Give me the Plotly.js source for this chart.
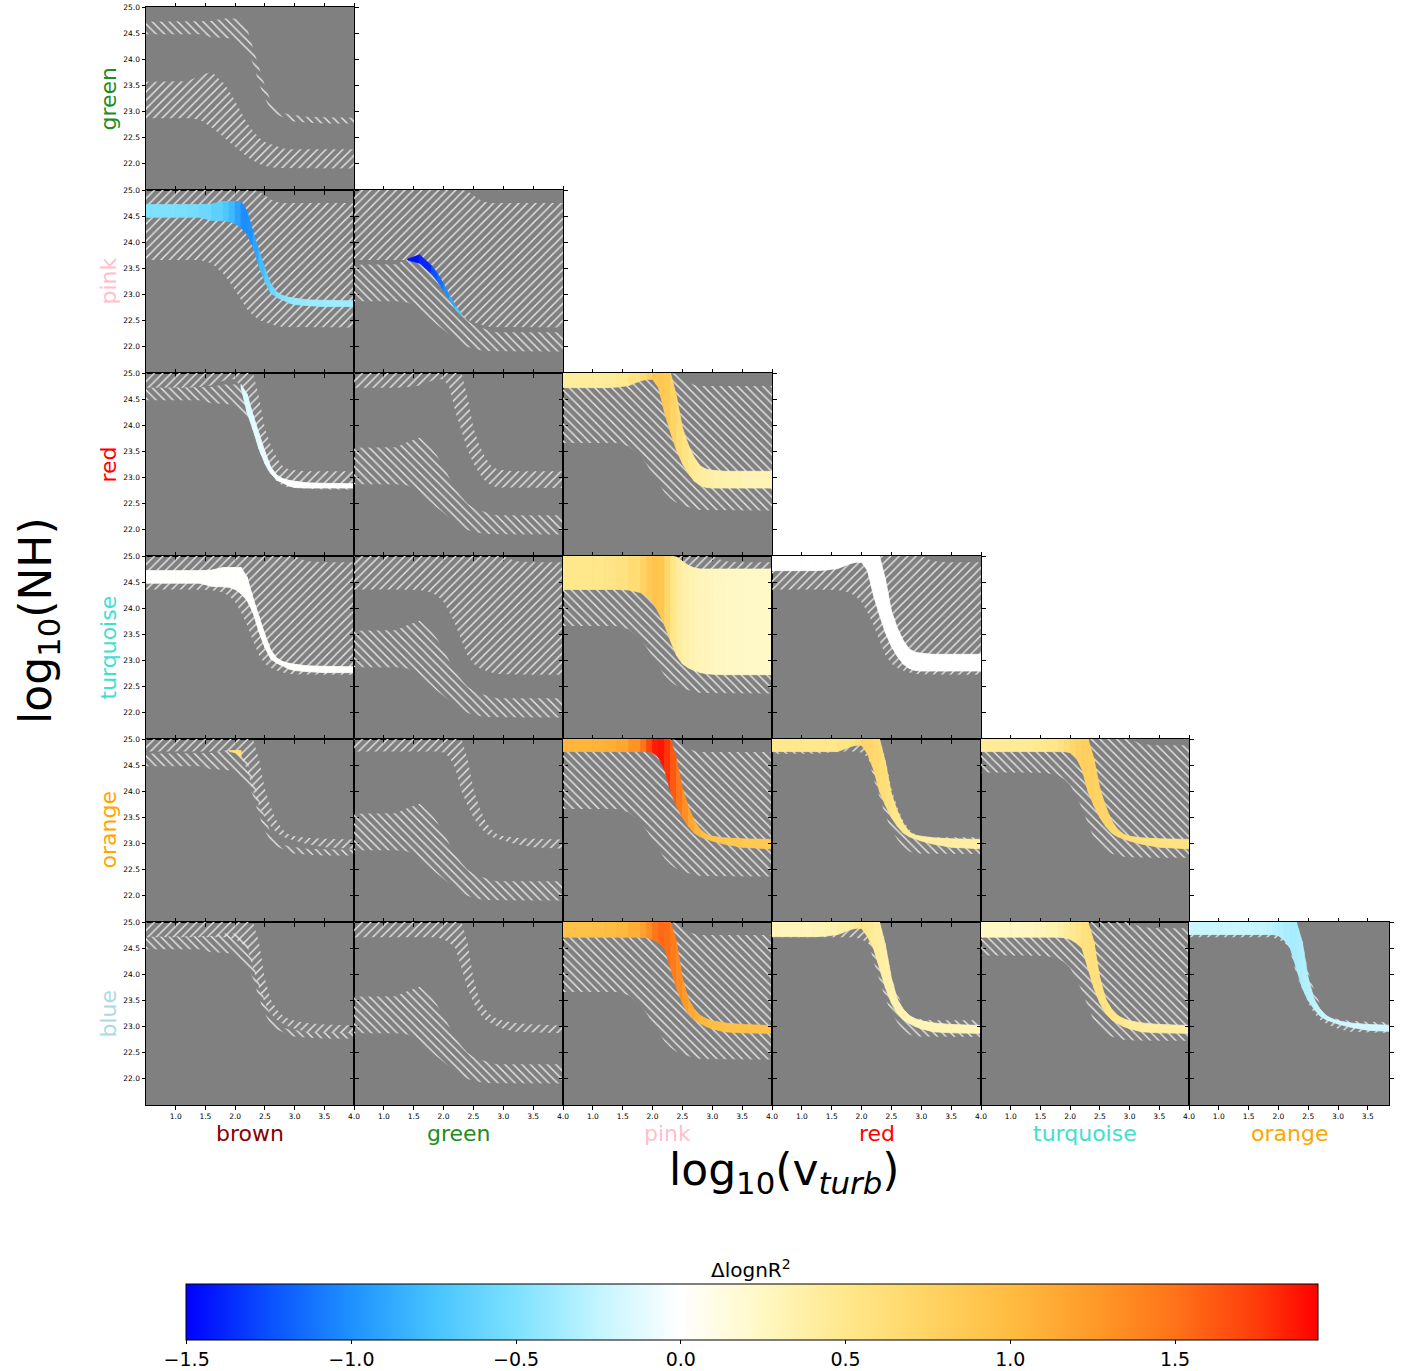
<!DOCTYPE html>
<html><head><meta charset="utf-8">
<script src="https://cdn.plot.ly/plotly-3.0.1.min.js"></script>
<style>html,body{margin:0;padding:0;background:#fff}</style>
</head><body><div id="chart" style="width:1405px;height:1371px"></div>
<script>
// ---------------- data ----------------
const rowObjects = ['green','pink','red','turquoise','orange','blue'];
const colObjects = ['brown','green','pink','red','turquoise','orange'];
const labelColors = {brown:'#8b0000', green:'#228b22', pink:'#ffc0cb', red:'#ff0000', turquoise:'#40e0d0', orange:'#ffa500', blue:'#add8e6'};

const vturb = [0.5,1.0,1.2,1.4,1.6,1.8,1.9,2.0,2.1,2.2,2.3,2.4,2.5,2.6,2.7,2.8,2.9,3.0,3.2,3.5,4.0];

// allowed log10(NH) band of each object (upper / lower edge at each log10(vturb))
const brownHigh = [24.72,24.72,24.72,24.72,24.73,24.78,24.78,24.78,24.78,24.6,24.2,23.85,23.5,23.2,23.05,22.98,22.95,22.93,22.9,22.89,22.88];
const brownLow  = [24.48,24.48,24.48,24.48,24.42,24.41,24.4,24.36,24.28,24.15,23.92,23.55,23.25,23.03,22.95,22.9,22.84,22.81,22.79,22.77,22.77];
const greenHigh = [23.57,23.57,23.58,23.68,23.76,23.55,23.4,23.2,22.98,22.78,22.63,22.5,22.42,22.38,22.35,22.3,22.28,22.28,22.28,22.28,22.28];
const greenLow  = [22.87,22.87,22.87,22.85,22.7,22.52,22.42,22.32,22.23,22.13,22.06,22.0,21.96,21.94,21.92,21.91,21.91,21.91,21.91,21.91,21.91];
const pinkHigh  = [25,25,25,25,25,25,25,25,25,25,25,24.98,24.9,24.82,24.77,24.75,24.75,24.75,24.75,24.75,24.75];
const pinkLow   = [23.66,23.66,23.66,23.66,23.6,23.4,23.25,23.08,22.9,22.72,22.6,22.52,22.47,22.43,22.4,22.38,22.37,22.37,22.37,22.37,22.37];
const redHigh   = [25,25,25,25,25,25,25,25,25,25,25,24.55,23.95,23.62,23.38,23.22,23.16,23.14,23.12,23.12,23.12];
const redLow    = [24.72,24.72,24.72,24.73,24.76,24.85,24.88,24.88,24.72,24.25,23.87,23.53,23.27,23.08,22.93,22.85,22.81,22.8,22.8,22.8,22.8];
const turquoiseHigh = [25,25,25,25,25,25,25,25,25,25,25,25,25,25,25,25,25,25,24.9,24.88,24.88];
const turquoiseLow  = [24.36,24.36,24.36,24.36,24.35,24.3,24.23,24.12,23.92,23.68,23.38,23.1,22.94,22.86,22.81,22.77,22.75,22.74,22.73,22.73,22.73];
const orangeHigh = [25,25,25,25,25,25,25,25,25,25,25,24.62,24.05,23.7,23.43,23.27,23.18,23.14,23.11,23.09,23.08];
const orangeLow  = [24.76,24.76,24.76,24.76,24.76,24.76,24.76,24.74,24.65,24.42,24.0,23.73,23.5,23.33,23.2,23.13,23.09,23.05,22.99,22.93,22.9];
const blueHigh = [25,25,25,25,25,25,25,25,25,25,25,24.62,23.92,23.52,23.33,23.21,23.15,23.11,23.07,23.04,23.02];
const blueLow  = [24.71,24.71,24.71,24.71,24.71,24.71,24.7,24.67,24.6,24.5,24.12,23.74,23.45,23.25,23.13,23.06,23.0,22.96,22.9,22.88,22.87];

// ΔlognR² along log10(vturb) in each overlap (null = no overlap drawn)
const dlognR2_pink_brown = [-0.5,-0.5,-0.52,-0.55,-0.6,-0.68,-0.75,-0.85,-0.98,-1.05,-0.95,-0.85,-0.72,-0.62,-0.52,-0.46,-0.44,-0.42,-0.4,-0.38,-0.38];
const dlognR2_pink_green = [null,null,null,-1.45,-1.45,-1.3,-1.2,-1.08,-0.95,-0.8,-0.65,null,null,null,null,null,null,null,null,null,null];
const dlognR2_red_brown = [null,null,null,null,null,null,null,null,-0.15,-0.15,-0.12,-0.1,-0.08,-0.05,-0.03,-0.01,0,0,0,0,0];
const dlognR2_red_pink = [0.42,0.42,0.43,0.45,0.5,0.6,0.7,0.82,0.9,0.88,0.8,0.7,0.6,0.5,0.45,0.42,0.4,0.38,0.35,0.33,0.3];
const dlognR2_turquoise_brown = [0.01,0.01,0.01,0.01,0.01,0.01,0.01,0.01,0.01,0.01,0.01,0.01,0.01,0.01,0.01,0.01,0.01,0.01,0.01,0.01,0.01];
const dlognR2_turquoise_pink = [0.5,0.5,0.52,0.55,0.6,0.7,0.8,0.9,0.95,0.85,0.6,0.45,0.38,0.34,0.32,0.3,0.28,0.27,0.25,0.24,0.22];
const dlognR2_turquoise_red = [0,0,0,0,0,0,0,0,0,0,0,0,0,0,0,0,0,0,0,0,0];
const dlognR2_orange_brown = [null,null,null,null,null,null,0.6,0.6,0.6,null,null,null,null,null,null,null,null,null,null,null,null];
const dlognR2_orange_pink = [1.05,1.05,1.08,1.12,1.2,1.4,1.6,1.8,1.9,1.85,1.7,1.55,1.4,1.25,1.1,1.0,0.95,0.92,0.9,0.88,0.85];
const dlognR2_orange_red = [0.5,0.5,0.5,0.5,0.52,0.55,0.6,0.7,0.75,0.7,0.65,0.6,0.55,0.5,0.48,0.45,0.43,0.42,0.4,0.4,0.4];
const dlognR2_orange_turquoise = [0.45,0.45,0.45,0.47,0.5,0.55,0.6,0.68,0.75,0.8,0.8,0.78,0.75,0.72,0.7,0.68,0.65,0.62,0.6,0.58,0.55];
const dlognR2_blue_pink = [0.95,0.95,0.97,1.0,1.05,1.15,1.25,1.4,1.55,1.55,1.5,1.4,1.3,1.2,1.1,1.05,1.0,0.98,0.95,0.95,0.95];
const dlognR2_blue_red = [0.3,0.3,0.3,0.32,0.35,0.4,0.45,0.5,0.5,0.45,0.4,0.38,0.35,0.33,0.32,0.3,0.3,0.3,0.3,0.3,0.3];
const dlognR2_blue_turquoise = [0.25,0.25,0.26,0.28,0.3,0.35,0.4,0.45,0.5,0.55,0.6,0.6,0.58,0.55,0.52,0.5,0.48,0.45,0.42,0.4,0.4];
const dlognR2_blue_orange = [-0.22,-0.22,-0.22,-0.23,-0.24,-0.25,-0.28,-0.3,-0.33,-0.35,-0.35,-0.33,-0.3,-0.28,-0.25,-0.22,-0.2,-0.2,-0.19,-0.18,-0.18];

const xTickVals = [1.0,1.5,2.0,2.5,3.0,3.5,4.0];
const yTickVals = [22.0,22.5,23.0,23.5,24.0,24.5,25.0];
const xRangeMax = [4.0,4.0,4.0,4.0,4.0,3.855];
const cbTickVals = [-1.5,-1.0,-0.5,0.0,0.5,1.0,1.5];
const cmin = -1.502, cmax = 1.934;
// colour stops (value, colour)
const cStopVals = [-1.5,-1.25,-1.0,-0.75,-0.5,-0.25,0.0,0.25,0.5,0.75,1.0,1.25,1.5,1.75,1.934];
const cStopCols = [[0,0,255],[10,80,255],[30,145,255],[70,195,255],[125,225,255],[195,245,255],[255,255,255],[255,248,195],[255,232,140],[255,212,100],[255,188,65],[255,155,40],[255,115,25],[255,60,10],[255,0,0]];

// ---------------- build ----------------
const bands = {
  brown:{high:brownHigh, low:brownLow}, green:{high:greenHigh, low:greenLow},
  pink:{high:pinkHigh, low:pinkLow}, red:{high:redHigh, low:redLow},
  turquoise:{high:turquoiseHigh, low:turquoiseLow}, orange:{high:orangeHigh, low:orangeLow},
  blue:{high:blueHigh, low:blueLow}
};
const panelValues = {
  pink_brown:dlognR2_pink_brown, pink_green:dlognR2_pink_green,
  red_brown:dlognR2_red_brown, red_pink:dlognR2_red_pink,
  turquoise_brown:dlognR2_turquoise_brown, turquoise_pink:dlognR2_turquoise_pink, turquoise_red:dlognR2_turquoise_red,
  orange_brown:dlognR2_orange_brown, orange_pink:dlognR2_orange_pink, orange_red:dlognR2_orange_red, orange_turquoise:dlognR2_orange_turquoise,
  blue_pink:dlognR2_blue_pink, blue_red:dlognR2_blue_red, blue_turquoise:dlognR2_blue_turquoise, blue_orange:dlognR2_blue_orange
};
function rgbStr(c){return 'rgb('+c.map(v=>Math.round(v)).join(',')+')';}
function colorAt(v){
  if (v <= cStopVals[0]) return rgbStr(cStopCols[0]);
  for (let i=0;i<cStopVals.length-1;i++){
    if (v <= cStopVals[i+1]){
      const t=(v-cStopVals[i])/(cStopVals[i+1]-cStopVals[i]);
      return rgbStr(cStopCols[i].map((a,k)=>a+(cStopCols[i+1][k]-a)*t));
    }
  }
  return rgbStr(cStopCols[cStopCols.length-1]);
}
const colorscale = cStopVals.map((v,i)=>[(v-cStopVals[0])/(cStopVals[cStopVals.length-1]-cStopVals[0]), rgbStr(cStopCols[i])]);

const plotL=146, plotR=1389, plotT=7, plotB=1105;
const W=plotR-plotL, H=plotB-plotT;
const colEdges=[146,354,563,772,981,1189,1389];
const rowEdges=[7,190,373,556,739,922,1105];
const font='DejaVu Sans, sans-serif';

const traces=[];
const layout={
  width:1405, height:1371, margin:{l:plotL,r:1405-plotR,t:plotT,b:1371-plotB},
  paper_bgcolor:'#ffffff', plot_bgcolor:'#808080', showlegend:false,
  font:{family:font,color:'#000'}, annotations:[]
};
function px2paperX(p){return (p-plotL)/W;}
function px2paperY(p){return (plotB-p)/H;}

for (let c=0;c<6;c++){
  layout['xaxis'+(c+1)]={
    domain:[px2paperX(colEdges[c]), px2paperX(colEdges[c+1])],
    range:[0.5, xRangeMax[c]], anchor:'y6',
    tickvals:xTickVals, ticktext:xTickVals.map(v=>v.toFixed(1)),
    ticks:'outside', ticklen:3.5, tickwidth:1, tickcolor:'#000',
    showline:true, linecolor:'#000', linewidth:1, mirror:'allticks',
    showgrid:false, zeroline:false, tickfont:{size:7.5,family:font}, fixedrange:true
  };
}
for (let r=0;r<6;r++){
  layout['yaxis'+(r+1)]={
    domain:[px2paperY(rowEdges[r+1]), px2paperY(rowEdges[r])],
    range:[21.5,25.0], anchor:'x1',
    tickvals:yTickVals, ticktext:yTickVals.map(v=>v.toFixed(1)),
    ticks:'outside', ticklen:3.5, tickwidth:1, tickcolor:'#000',
    showline:true, linecolor:'#000', linewidth:1, mirror:'allticks',
    showgrid:false, zeroline:false, tickfont:{size:7.5,family:font}, fixedrange:true
  };
}

function hatchTrace(obj, shape, xa, ya){
  const b=bands[obj];
  return {type:'scatter', mode:'lines', xaxis:xa, yaxis:ya,
    x:vturb.concat(vturb.slice().reverse()), y:b.high.concat(b.low.slice().reverse()),
    fill:'toself', fillcolor:'rgba(0,0,0,0)',
    fillpattern:{shape:shape, fgcolor:'#ececec', bgcolor:'rgba(0,0,0,0)', size:6, solidity:0.22},
    line:{width:0,color:'rgba(0,0,0,0)'}, hoverinfo:'skip', showlegend:false};
}

for (let r=0;r<6;r++){
  for (let c=0;c<=r;c++){
    const ro=rowObjects[r], co=colObjects[c];
    const xa='x'+(c+1), ya='y'+(r+1);
    traces.push(hatchTrace(co,'\\',xa,ya));
    traces.push(hatchTrace(ro,'/',xa,ya));
    const vals=panelValues[ro+'_'+co];
    if (!vals) continue;
    const A=bands[ro], B=bands[co];
    for (let i=0;i<vturb.length-1;i++){
      if (vals[i]==null || vals[i+1]==null) continue;
      const lo0=Math.max(A.low[i],B.low[i]), hi0=Math.min(A.high[i],B.high[i]);
      const lo1=Math.max(A.low[i+1],B.low[i+1]), hi1=Math.min(A.high[i+1],B.high[i+1]);
      if (hi0<=lo0 && hi1<=lo1) continue;
      const h0=Math.max(hi0,lo0), h1=Math.max(hi1,lo1);
      const col=colorAt((vals[i]+vals[i+1])/2);
      traces.push({type:'scatter', mode:'lines', xaxis:xa, yaxis:ya,
        x:[vturb[i],vturb[i+1],vturb[i+1],vturb[i],vturb[i]], y:[lo0,lo1,h1,h0,lo0],
        fill:'toself', fillcolor:col, line:{width:0.8,color:col}, hoverinfo:'skip', showlegend:false});
    }
  }
}

// colour bar carrier
traces.push({type:'scatter', mode:'markers', x:[-5,-5], y:[0,0], xaxis:'x1', yaxis:'y6',
  marker:{size:1, color:[cmin,cmax], cmin:cmin, cmax:cmax, colorscale:colorscale, showscale:true,
    colorbar:{orientation:'h', xref:'paper', x:px2paperX(752), xanchor:'center',
      yref:'container', y:1-1284/1371, yanchor:'top',
      len:1132, lenmode:'pixels', thickness:56, thicknessmode:'pixels',
      outlinewidth:1, outlinecolor:'#000', xpad:0, ypad:0,
      ticks:'outside', ticklen:3.5, tickwidth:1, tickcolor:'#000',
      tickvals:cbTickVals, ticktext:cbTickVals.map(v=>(v<0?'\u2212':'')+Math.abs(v).toFixed(1)),
      tickfont:{size:19,family:font,color:'#000'}}},
  hoverinfo:'skip', showlegend:false});

// labels
for (let c=0;c<6;c++){
  layout.annotations.push({text:colObjects[c], xref:'paper', yref:'paper',
    x:px2paperX((colEdges[c]+colEdges[c+1])/2), y:px2paperY(1133), xanchor:'center', yanchor:'middle',
    showarrow:false, font:{size:22,family:font,color:labelColors[colObjects[c]]}});
}
for (let r=0;r<6;r++){
  layout.annotations.push({text:rowObjects[r], xref:'paper', yref:'paper',
    x:px2paperX(108), y:px2paperY((rowEdges[r]+rowEdges[r+1])/2), xanchor:'center', yanchor:'middle', textangle:-90,
    showarrow:false, font:{size:22,family:font,color:labelColors[rowObjects[r]]}});
}
layout.annotations.push({text:'log<sub>10</sub>(NH)', xref:'paper', yref:'paper',
  x:px2paperX(38), y:px2paperY(621), xanchor:'center', yanchor:'middle', textangle:-90,
  showarrow:false, font:{size:44,family:font,color:'#000'}});
layout.annotations.push({text:'log<sub>10</sub>(v<sub><i>turb</i></sub>)', xref:'paper', yref:'paper',
  x:px2paperX(784), y:px2paperY(1172), xanchor:'center', yanchor:'middle',
  showarrow:false, font:{size:44,family:font,color:'#000'}});
layout.annotations.push({text:'\u0394lognR<sup>2</sup>', xref:'paper', yref:'paper',
  x:px2paperX(751), y:px2paperY(1269), xanchor:'center', yanchor:'middle',
  showarrow:false, font:{size:20,family:font,color:'#000'}});

Plotly.newPlot('chart', traces, layout, {displayModeBar:false, staticPlot:true});
</script></body></html>
